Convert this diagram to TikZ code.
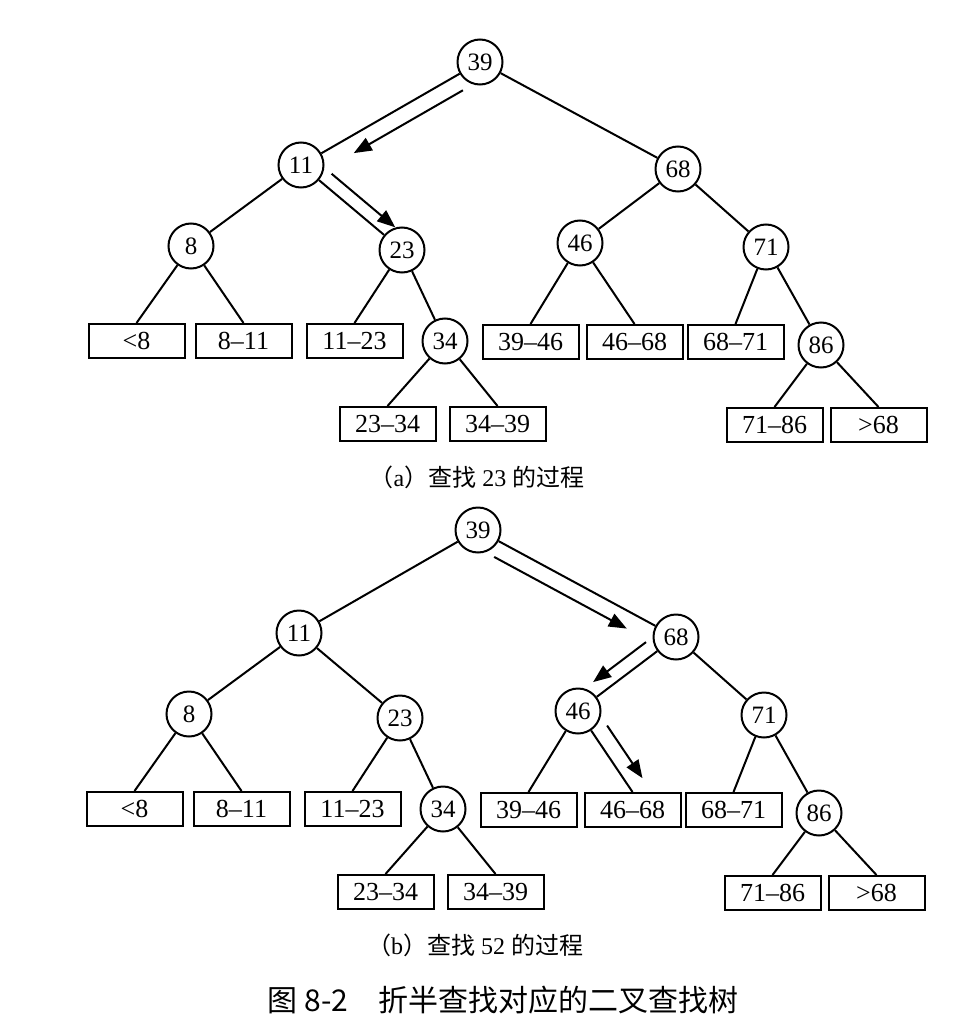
\documentclass[tikz,border=0pt]{standalone}
\usepackage{fontspec}
\setmainfont{Liberation Serif}
\newfontfamily\cjk{Noto Sans CJK SC}
\usetikzlibrary{arrows.meta,calc}
\tikzset{
  keynode/.style={draw, circle, line width=2pt, minimum size=45pt, inner sep=0pt, fill=white, font=\fontsize{25}{29}\selectfont},
  rangebox/.style={draw, rectangle, line width=2pt, minimum width=96pt, minimum height=34pt, inner sep=0pt, font=\fontsize{26}{30}\selectfont},
  treeedge/.style={line width=2pt},
  searcharrow/.style={-{Triangle[length=18pt,width=14pt]}, line width=2pt},
  subcap/.style={font=\fontsize{24}{28}\selectfont},
  figcap/.style={font=\cjk\fontsize{30}{34}\selectfont}
}

\begin{document}
\begin{tikzpicture}[x=1pt, y=-1pt]
      \useasboundingbox (0,0) rectangle (968,1035);
      % (a) search for 23
      \node[keynode] (a39) at (480,62) {39};
      \node[keynode] (a11) at (301,165) {11};
      \node[keynode] (a68) at (678,169) {68};
      \node[keynode] (a8) at (191,246) {8};
      \node[keynode] (a23) at (402,250) {23};
      \node[keynode] (a46) at (580,243) {46};
      \node[keynode] (a71) at (766,247) {71};
      \node[keynode] (a34) at (445,341) {34};
      \node[keynode] (a86) at (821,345) {86};
      \node[rangebox] (alt8) at (136.5,341) {<8};
      \node[rangebox] (a811) at (243.5,341) {8--11};
      \node[rangebox] (a1123) at (354.5,341) {11--23};
      \node[rangebox] (a3946) at (530.5,342) {39--46};
      \node[rangebox] (a4668) at (634.5,342) {46--68};
      \node[rangebox] (a6871) at (735.5,342) {68--71};
      \node[rangebox] (a2334) at (387.5,424) {23--34};
      \node[rangebox] (a3439) at (497.5,424) {34--39};
      \node[rangebox] (a7186) at (774.5,425) {71--86};
      \node[rangebox] (agt68) at (878.5,425) {>68};
      \draw[treeedge] (a39) -- (a11);
      \draw[treeedge] (a39) -- (a68);
      \draw[treeedge] (a11) -- (a8);
      \draw[treeedge] (a11) -- (a23);
      \draw[treeedge] (a68) -- (a46);
      \draw[treeedge] (a68) -- (a71);
      \draw[treeedge] (a8) -- (alt8.north);
      \draw[treeedge] (a8) -- (a811.north);
      \draw[treeedge] (a23) -- (a1123.north);
      \draw[treeedge] (a23) -- (a34);
      \draw[treeedge] (a34) -- (a2334.north);
      \draw[treeedge] (a34) -- (a3439.north);
      \draw[treeedge] (a46) -- (a3946.north);
      \draw[treeedge] (a46) -- (a4668.north);
      \draw[treeedge] (a71) -- (a6871.north);
      \draw[treeedge] (a71) -- (a86);
      \draw[treeedge] (a86) -- (a7186.north);
      \draw[treeedge] (a86) -- (agt68.north);
      \draw[searcharrow] ($(a39)!0.14!(a11)!16pt!90:(a11)$) -- ($(a39)!0.75!(a11)!16pt!-90:(a39)$);
      \draw[searcharrow] ($(a11)!0.22!(a23)!13pt!90:(a23)$) -- ($(a11)!0.85!(a23)!13pt!-90:(a11)$);
      \node[subcap] (capa) at (477,477) {{\cjk （}a{\cjk ）查找} 23 {\cjk 的过程}};

      % (b) search for 52
      \begin{scope}[shift={(-2,468)}]
      \node[keynode] (b39) at (480,62) {39};
      \node[keynode] (b11) at (301,165) {11};
      \node[keynode] (b68) at (678,169) {68};
      \node[keynode] (b8) at (191,246) {8};
      \node[keynode] (b23) at (402,250) {23};
      \node[keynode] (b46) at (580,243) {46};
      \node[keynode] (b71) at (766,247) {71};
      \node[keynode] (b34) at (445,341) {34};
      \node[keynode] (b86) at (821,345) {86};
      \node[rangebox] (blt8) at (136.5,341) {<8};
      \node[rangebox] (b811) at (243.5,341) {8--11};
      \node[rangebox] (b1123) at (354.5,341) {11--23};
      \node[rangebox] (b3946) at (530.5,342) {39--46};
      \node[rangebox] (b4668) at (634.5,342) {46--68};
      \node[rangebox] (b6871) at (735.5,342) {68--71};
      \node[rangebox] (b2334) at (387.5,424) {23--34};
      \node[rangebox] (b3439) at (497.5,424) {34--39};
      \node[rangebox] (b7186) at (774.5,425) {71--86};
      \node[rangebox] (bgt68) at (878.5,425) {>68};
      \node[subcap] (capb) at (477,477) {{\cjk （}b{\cjk ）查找} 52 {\cjk 的过程}};
      \end{scope}
      \draw[treeedge] (b39) -- (b11);
      \draw[treeedge] (b39) -- (b68);
      \draw[treeedge] (b11) -- (b8);
      \draw[treeedge] (b11) -- (b23);
      \draw[treeedge] (b68) -- (b46);
      \draw[treeedge] (b68) -- (b71);
      \draw[treeedge] (b8) -- (blt8.north);
      \draw[treeedge] (b8) -- (b811.north);
      \draw[treeedge] (b23) -- (b1123.north);
      \draw[treeedge] (b23) -- (b34);
      \draw[treeedge] (b34) -- (b2334.north);
      \draw[treeedge] (b34) -- (b3439.north);
      \draw[treeedge] (b46) -- (b3946.north);
      \draw[treeedge] (b46) -- (b4668.north);
      \draw[treeedge] (b71) -- (b6871.north);
      \draw[treeedge] (b71) -- (b86);
      \draw[treeedge] (b86) -- (b7186.north);
      \draw[treeedge] (b86) -- (bgt68.north);
      \draw[searcharrow] ($(b39)!0.12!(b68)!16pt!-90:(b68)$) -- ($(b39)!0.79!(b68)!16pt!90:(b39)$);
      \draw[searcharrow] ($(b68)!0.22!(b46)!14pt!-90:(b46)$) -- ($(b68)!0.76!(b46)!14pt!90:(b68)$);
      \draw[searcharrow] ($(b46)!0.29!(b4668.north)!16pt!90:(b4668.north)$) -- ($(b46)!0.94!(b4668.north)!16pt!-90:(b46)$);

      \node[figcap] (fig) at (503,1000) {图 8-2　折半查找对应的二叉查找树};
    \end{tikzpicture}
\end{document}
